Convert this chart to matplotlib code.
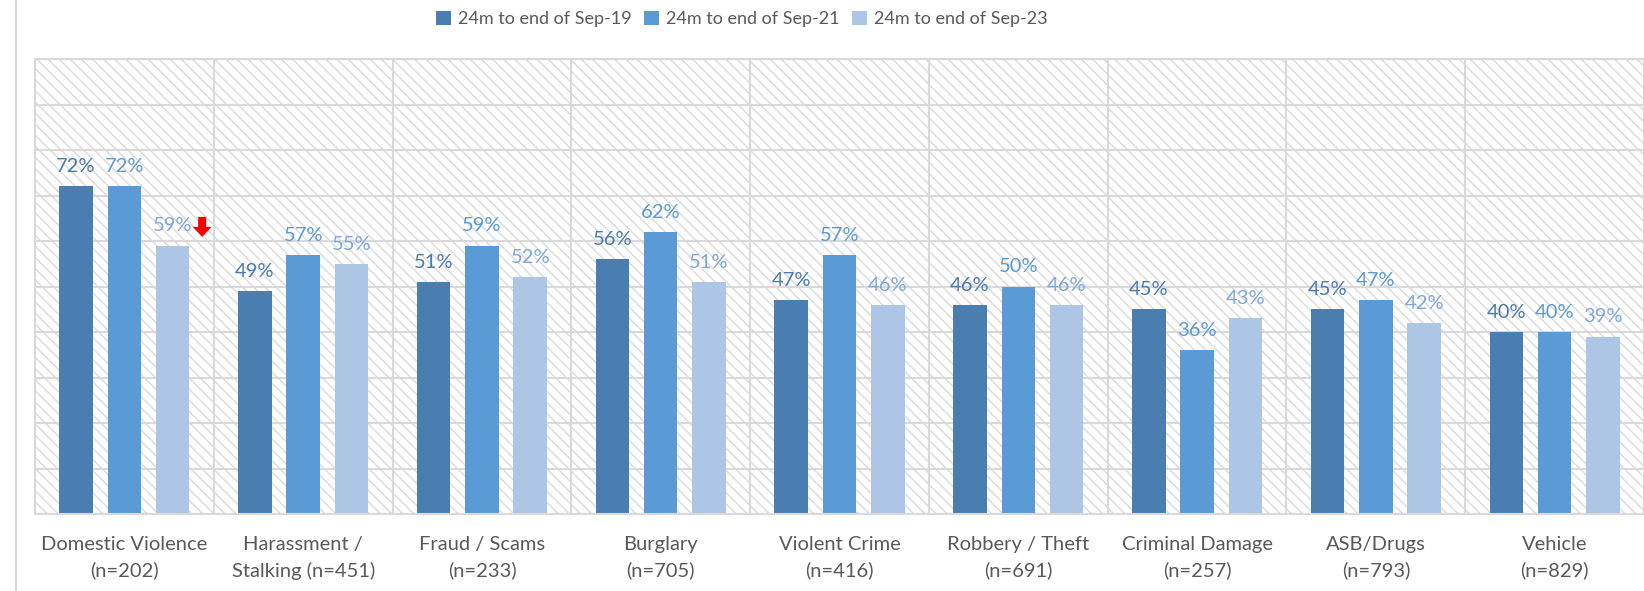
import numpy as np
import matplotlib
matplotlib.use("Agg")
import matplotlib.pyplot as plt
from matplotlib.patches import Rectangle, FancyArrow, Patch
from matplotlib.lines import Line2D

plt.rcParams['font.family'] = ['Lato', 'DejaVu Sans']
plt.rcParams['hatch.linewidth'] = 1.1

categories = [
    "Domestic Violence\n(n=202)",
    "Harassment /\nStalking (n=451)",
    "Fraud / Scams\n(n=233)",
    "Burglary\n(n=705)",
    "Violent Crime\n(n=416)",
    "Robbery / Theft\n(n=691)",
    "Criminal Damage\n(n=257)",
    "ASB/Drugs\n(n=793)",
    "Vehicle\n(n=829)",
]
series_names = ["24m to end of Sep-19", "24m to end of Sep-21", "24m to end of Sep-23"]
sep19 = [72, 49, 51, 56, 47, 46, 45, 45, 40]
sep21 = [72, 57, 59, 62, 57, 50, 36, 47, 40]
sep23 = [59, 55, 52, 51, 46, 46, 43, 42, 39]

bar_colors = ["#4a7eb0", "#5b9bd5", "#adc6e5"]
label_colors = ["#4a7ab0", "#5b9bd5", "#7ea7dc"]
grid_color = "#d9d9d9"
text_color = "#595959"

W, H = 1644, 591
fig = plt.figure(figsize=(W / 100, H / 100), dpi=100)
ax = fig.add_axes([35 / W, (H - 514) / H, (1644 - 35) / W, (514 - 59) / H])

# hatched plot-area background
ax.add_patch(Rectangle((0, 0), 1, 1, transform=ax.transAxes, facecolor="white",
                       edgecolor="#dddddd", hatch="\\\\\\", lw=0, zorder=0))

x = np.arange(len(categories))
width = 0.1875
pitch = 0.27
for k, vals in enumerate([sep19, sep21, sep23]):
    xs = x + (k - 1) * pitch
    ax.bar(xs, vals, width=width, color=bar_colors[k], zorder=2)
    for xi, v in zip(xs, vals):
        ax.annotate(f"{v}%", (xi, v), xytext=(0, 8), textcoords="offset points",
                    ha="center", va="bottom", fontsize=14.5, color=label_colors[k],
                    zorder=3)

# downward red marker beside the Domestic Violence Sep-23 value
ax.add_patch(FancyArrow(0.435, 65.3, 0, -4.4, width=0.045, head_width=0.105,
                        head_length=2.2, length_includes_head=True,
                        color="#ff0000", lw=0, zorder=4))

ax.set_xlim(-0.5, len(categories) - 0.5)
ax.set_ylim(0, 100)
ax.set_yticks(np.arange(0, 101, 10))
ax.set_yticklabels([])
ax.set_xticks(x)
ax.set_xticklabels(categories, fontsize=14.5, color=text_color, linespacing=1.55)
ax.set_xticks(np.arange(0.5, len(categories) - 0.5, 1), minor=True)
ax.tick_params(axis="both", which="both", length=0)
ax.tick_params(axis="x", pad=16)
ax.grid(axis="y", which="major", color=grid_color, lw=1.5, zorder=0.5)
ax.grid(axis="x", which="minor", color=grid_color, lw=1.5, zorder=0.5)
ax.set_axisbelow(True)
for s in ax.spines.values():
    s.set_color(grid_color)
    s.set_linewidth(1.5)

# chart-area frame on the left
fig.add_artist(Line2D([15.5 / W, 15.5 / W], [0, 1], color="#d9d9d9", lw=1.5,
                      transform=fig.transFigure))

handles = [Patch(facecolor=c, edgecolor="none") for c in bar_colors]
fig.legend(handles, series_names, loc="center", bbox_to_anchor=(742 / W, 1 - 19 / H),
           ncol=3, frameon=False, fontsize=13, labelcolor=text_color,
           handlelength=0.8, handleheight=0.8, handletextpad=0.4,
           columnspacing=0.7)

fig.savefig("out.png", dpi=100)
